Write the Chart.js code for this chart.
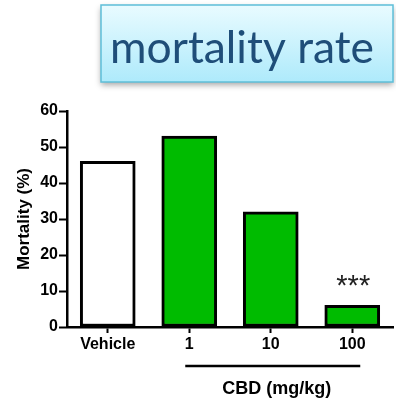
<!DOCTYPE html>
<html>
<head>
<meta charset="utf-8">
<script src="https://cdn.jsdelivr.net/npm/chart.js@4/dist/chart.umd.min.js"></script>
<style>
  html, body { margin: 0; padding: 0; background: #ffffff; }
  canvas { display: block; }
</style>
</head>
<body>
<canvas id="c" width="396" height="401"></canvas>
<script>
// Mortality by treatment group
const categories = ['Vehicle', '1', '10', '100'];
const mortality = [46, 53, 32, 6];
const barColors = ['#ffffff', '#00bb00', '#00bb00', '#00bb00'];
const significance = ['', '', '', '***'];
const yTicks = [0, 10, 20, 30, 40, 50, 60];
const titleText = 'mortality rate';
const doseLabel = 'CBD (mg/kg)';

const FONT = '"Liberation Sans", Arial, sans-serif';

// Title panel above the plot
const titlePanel = {
  id: 'titlePanel',
  beforeDraw(chart) {
    const ctx = chart.ctx;
    const x = 101, y = 5, w = 292, h = 77;
    ctx.save();
    ctx.shadowColor = 'rgba(0,0,0,0.35)';
    ctx.shadowBlur = 6;
    ctx.shadowOffsetY = 3;
    const g = ctx.createLinearGradient(0, y, 0, y + h);
    g.addColorStop(0, '#e9fbff');
    g.addColorStop(1, '#aeeafb');
    ctx.fillStyle = g;
    ctx.fillRect(x, y, w, h);
    ctx.restore();
    ctx.save();
    ctx.strokeStyle = '#5ebfd9';
    ctx.lineWidth = 1.5;
    ctx.strokeRect(x, y, w, h);
    // fit the title to its panel
    let size = 40;
    ctx.font = size + 'px Lato, "Open Sans", sans-serif';
    const tw = ctx.measureText(titleText).width;
    size = size * 264 / tw;
    ctx.font = size + 'px Lato, "Open Sans", sans-serif';
    ctx.fillStyle = '#1f4e79';
    ctx.textAlign = 'center';
    ctx.textBaseline = 'alphabetic';
    ctx.fillText(titleText, 242, 63);
    ctx.restore();
  }
};

// Significance marks, dose bracket and its label
const annotations = {
  id: 'annotations',
  afterDatasetsDraw(chart) {
    const ctx = chart.ctx;
    const meta = chart.getDatasetMeta(0);
    ctx.save();
    ctx.fillStyle = '#222222';
    ctx.font = '29px ' + FONT;
    ctx.textAlign = 'center';
    ctx.textBaseline = 'middle';
    meta.data.forEach((bar, i) => {
      if (significance[i]) ctx.fillText(significance[i], bar.x + 1, bar.y - 18);
    });
    const xs = chart.scales.x;
    const x0 = xs.getPixelForValue(1) - 4;
    const x1 = xs.getPixelForValue(3) + 8;
    ctx.strokeStyle = '#000000';
    ctx.lineWidth = 2.5;
    ctx.beginPath();
    ctx.moveTo(x0, 366);
    ctx.lineTo(x1, 366);
    ctx.stroke();
    ctx.fillStyle = '#000000';
    ctx.font = 'bold 18px ' + FONT;
    ctx.fillText(doseLabel, (x0 + x1) / 2 + 4, 389);
    ctx.restore();
  }
};

new Chart(document.getElementById('c'), {
  type: 'bar',
  data: {
    labels: categories,
    datasets: [{
      data: mortality,
      backgroundColor: barColors,
      borderColor: '#000000',
      borderWidth: 3,
      borderSkipped: false,
      barThickness: 55
    }]
  },
  options: {
    responsive: false,
    animation: false,
    layout: { padding: { top: 111, right: 3, left: 0, bottom: 0 } },
    plugins: { legend: { display: false }, tooltip: { enabled: false }, title: { display: false } },
    scales: {
      x: {
        afterFit: s => { s.height = 74; },
        grid: { display: true, drawOnChartArea: false, offset: false, tickLength: 6, tickWidth: 2, tickColor: '#000' },
        border: { display: true, color: '#000', width: 2.5 },
        ticks: { color: '#000', padding: 2, font: { family: FONT, size: 16, weight: 'bold' } }
      },
      y: {
        min: 0,
        max: 60,
        afterFit: s => { s.width = 67; },
        afterBuildTicks: s => { s.ticks = yTicks.map(v => ({ value: v })); },
        grid: { display: true, drawOnChartArea: false, tickLength: 8, tickWidth: 2, tickColor: '#000' },
        border: { display: true, color: '#000', width: 2.5 },
        ticks: { color: '#000', padding: 1, font: { family: FONT, size: 16, weight: 'bold' } },
        title: { display: true, text: 'Mortality (%)', color: '#000', padding: { top: 14, bottom: 0 }, font: { family: FONT, size: 17, weight: 'bold' } }
      }
    }
  },
  plugins: [titlePanel, annotations]
});
</script>
</body>
</html>
